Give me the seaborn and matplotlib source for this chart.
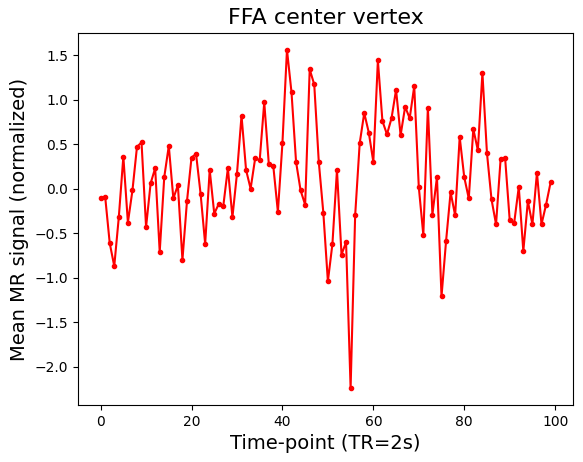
import numpy as np
import pandas as pd
import seaborn as sbs
import matplotlib
matplotlib.use("Agg")
import matplotlib.pyplot as plt

# values, one per time-point
signal = [-0.10, -0.09, -0.61, -0.87, -0.32, 0.36, -0.38, -0.02, 0.47, 0.52,
          -0.43, 0.06, 0.23, -0.71, 0.13, 0.48, -0.11, 0.04, -0.80, -0.14,
          0.35, 0.39, -0.06, -0.62, 0.21, -0.28, -0.17, -0.19, 0.23, -0.32,
          0.17, 0.82, 0.21, 0.00, 0.34, 0.32, 0.97, 0.28, 0.25, -0.26,
          0.51, 1.56, 1.08, 0.30, -0.02, -0.18, 1.34, 1.17, 0.30, -0.27,
          -1.04, -0.62, 0.21, -0.74, -0.60, -2.24, -0.30, 0.51, 0.85, 0.63,
          0.30, 1.44, 0.76, 0.61, 0.79, 1.11, 0.60, 0.92, 0.79, 1.15,
          0.02, -0.52, 0.91, -0.29, 0.13, -1.21, -0.59, -0.04, -0.30, 0.58,
          0.13, -0.11, 0.67, 0.43, 1.30, 0.40, -0.12, -0.40, 0.33, 0.34,
          -0.35, -0.38, 0.02, -0.70, -0.14, -0.40, 0.18, -0.40, -0.18, 0.07]
timepoints = np.arange(len(signal))

df = pd.DataFrame({"t": timepoints, "signal": signal})

fig, ax = plt.subplots(figsize=(5.83, 4.62), dpi=100)
fig.subplots_adjust(left=0.134, right=0.983, top=0.929, bottom=0.123)

sbs.lineplot(data=df, x="t", y="signal", ax=ax, color="red", marker=".",
             markersize=6, markeredgecolor="red", markeredgewidth=1.0, linewidth=1.5)

ax.set_title("FFA center vertex", fontsize=16)
ax.set_xlabel("Time-point (TR=2s)", fontsize=14)
ax.set_ylabel("Mean MR signal (normalized)", fontsize=14)
ax.set_xticks([0, 20, 40, 60, 80, 100])
ax.set_yticks([-2.0, -1.5, -1.0, -0.5, 0.0, 0.5, 1.0, 1.5])

plt.savefig("out.png", dpi=100)
